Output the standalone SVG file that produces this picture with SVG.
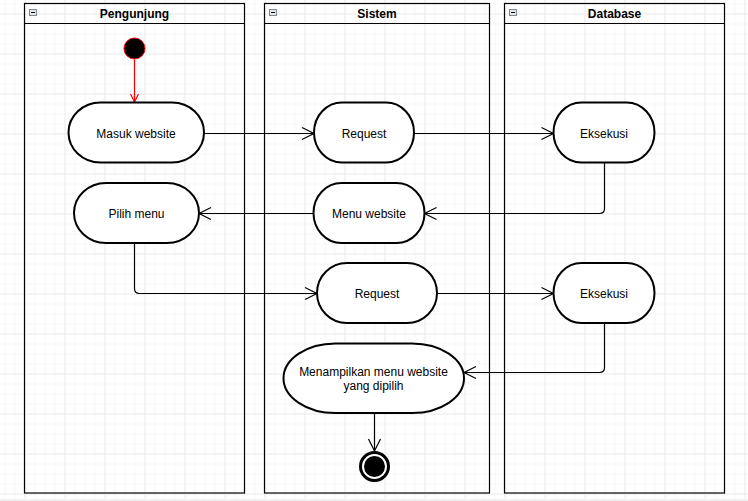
<svg xmlns="http://www.w3.org/2000/svg" width="748" height="501" viewBox="0 0 748 501">
<style>
.lane{fill:none;stroke:#000;stroke-width:1.2}
.hdr{font-family:"Liberation Sans",Arial,sans-serif;font-size:12px;font-weight:bold;text-anchor:middle;fill:#000}
.node{fill:#fff;stroke:#000;stroke-width:2}
.lbl{font-family:"Liberation Sans",Arial,sans-serif;font-size:12px;text-anchor:middle;fill:#000}
.edge{fill:none;stroke:#000;stroke-width:1.2}
.icon{fill:#e4e4e4;stroke:#7f8a96;stroke-width:1}
</style>
<defs>
<pattern id="minor" width="10" height="10" patternUnits="userSpaceOnUse" x="4.5" y="3.5">
<path d="M0,0.5 H10 M0.5,0 V10" fill="none" stroke="#f7f7f7" stroke-width="1"/>
</pattern>
<pattern id="major" width="40" height="40" patternUnits="userSpaceOnUse" x="24.5" y="13.5">
<path d="M0,0.5 H40 M0.5,0 V40" fill="none" stroke="#ededed" stroke-width="1"/>
</pattern>
<marker id="arr" markerWidth="16" markerHeight="16" refX="13" refY="8" orient="auto" markerUnits="userSpaceOnUse">
<path d="M1,2 L13,8 L1,14" fill="none" stroke="#000" stroke-width="1.2"/>
</marker>
<marker id="arrRed" markerWidth="12" markerHeight="12" refX="9" refY="6" orient="auto" markerUnits="userSpaceOnUse">
<path d="M1,2 L9,6 L1,10" fill="none" stroke="#ff0000" stroke-width="1.2"/>
</marker>
</defs>
<rect width="748" height="501" fill="#fff"/>
<rect width="748" height="501" fill="url(#minor)"/>
<rect width="748" height="501" fill="url(#major)"/>
<rect x="0" y="499" width="748" height="2" fill="#f0f0f0"/>

<g id="lane-pengunjung">
<rect class="lane" x="24.5" y="3.5" width="220" height="489.5" fill="none"/>
<line class="lane" x1="24.5" y1="23.5" x2="244.5" y2="23.5"/>
<rect class="icon" x="29.5" y="9.5" width="7" height="6"/>
<line x1="31" y1="12.5" x2="35" y2="12.5" stroke="#000" stroke-width="1"/>
<text class="hdr" x="134.5" y="18">Pengunjung</text>
</g>
<g id="lane-sistem">
<rect class="lane" x="264.5" y="3.5" width="225" height="489.5"/>
<line class="lane" x1="264.5" y1="23.5" x2="489.5" y2="23.5"/>
<rect class="icon" x="269.5" y="9.5" width="7" height="6"/>
<line x1="271" y1="12.5" x2="275" y2="12.5" stroke="#000" stroke-width="1"/>
<text class="hdr" x="377" y="18">Sistem</text>
</g>
<g id="lane-database">
<rect class="lane" x="504.5" y="3.5" width="220" height="489.5"/>
<line class="lane" x1="504.5" y1="23.5" x2="724.5" y2="23.5"/>
<rect class="icon" x="509.5" y="9.5" width="7" height="6"/>
<line x1="511" y1="12.5" x2="515" y2="12.5" stroke="#000" stroke-width="1"/>
<text class="hdr" x="614.5" y="18">Database</text>
</g>

<g id="connectors">
<line x1="134.5" y1="59.5" x2="134.5" y2="102" stroke="#ff0000" stroke-width="1.2" marker-end="url(#arrRed)"/>
<path class="edge" d="M204,133.5 H314" marker-end="url(#arr)"/>
<path class="edge" d="M414,133.5 H553.5" marker-end="url(#arr)"/>
<path class="edge" d="M604.5,162.5 V208.5 Q604.5,213.5 599.5,213.5 H424.5" marker-end="url(#arr)"/>
<path class="edge" d="M313.5,213.5 H199" marker-end="url(#arr)"/>
<path class="edge" d="M134.5,243 V288.5 Q134.5,293.5 139.5,293.5 H317" marker-end="url(#arr)"/>
<path class="edge" d="M437,293.5 H553.5" marker-end="url(#arr)"/>
<path class="edge" d="M604.5,322.5 V367.5 Q604.5,372.5 599.5,372.5 H464" marker-end="url(#arr)"/>
<path class="edge" d="M374.5,413 V451" marker-end="url(#arr)"/>
</g>

<g id="start">
<circle cx="134.5" cy="48.5" r="10.5" fill="#000" stroke="#ff0000" stroke-width="1"/>
</g>
<g id="masuk-website">
<rect class="node" x="68.5" y="102.5" width="135.5" height="60" rx="32" ry="30"/>
<text class="lbl" x="136" y="137.5">Masuk website</text>
</g>
<g id="request-1">
<rect class="node" x="314" y="102.5" width="100" height="60" rx="28" ry="30"/>
<text class="lbl" x="364" y="137.5">Request</text>
</g>
<g id="eksekusi-1">
<rect class="node" x="553.5" y="102.5" width="101" height="60" rx="28" ry="30"/>
<text class="lbl" x="604" y="137.5">Eksekusi</text>
</g>
<g id="pilih-menu">
<rect class="node" x="74" y="183" width="125" height="60" rx="32" ry="30"/>
<text class="lbl" x="136.5" y="217.5">Pilih menu</text>
</g>
<g id="menu-website">
<rect class="node" x="313.5" y="183" width="111" height="60" rx="28" ry="30"/>
<text class="lbl" x="369" y="217.5">Menu website</text>
</g>
<g id="request-2">
<rect class="node" x="317" y="263" width="120" height="60" rx="30" ry="30"/>
<text class="lbl" x="377" y="297.5">Request</text>
</g>
<g id="eksekusi-2">
<rect class="node" x="553.5" y="263" width="101" height="60" rx="28" ry="30"/>
<text class="lbl" x="604" y="297.5">Eksekusi</text>
</g>
<g id="menampilkan">
<rect class="node" x="283.5" y="343.5" width="180.5" height="69.5" rx="52" ry="34.75"/>
<text class="lbl" x="373.5" y="375.5">Menampilkan menu website</text>
<text class="lbl" x="373.5" y="389.5">yang dipilih</text>
</g>
<g id="end">
<circle cx="374.5" cy="466.5" r="14" fill="#fff" stroke="#000" stroke-width="3"/>
<circle cx="374.5" cy="466.5" r="10.5" fill="#000"/>
</g>
</svg>
